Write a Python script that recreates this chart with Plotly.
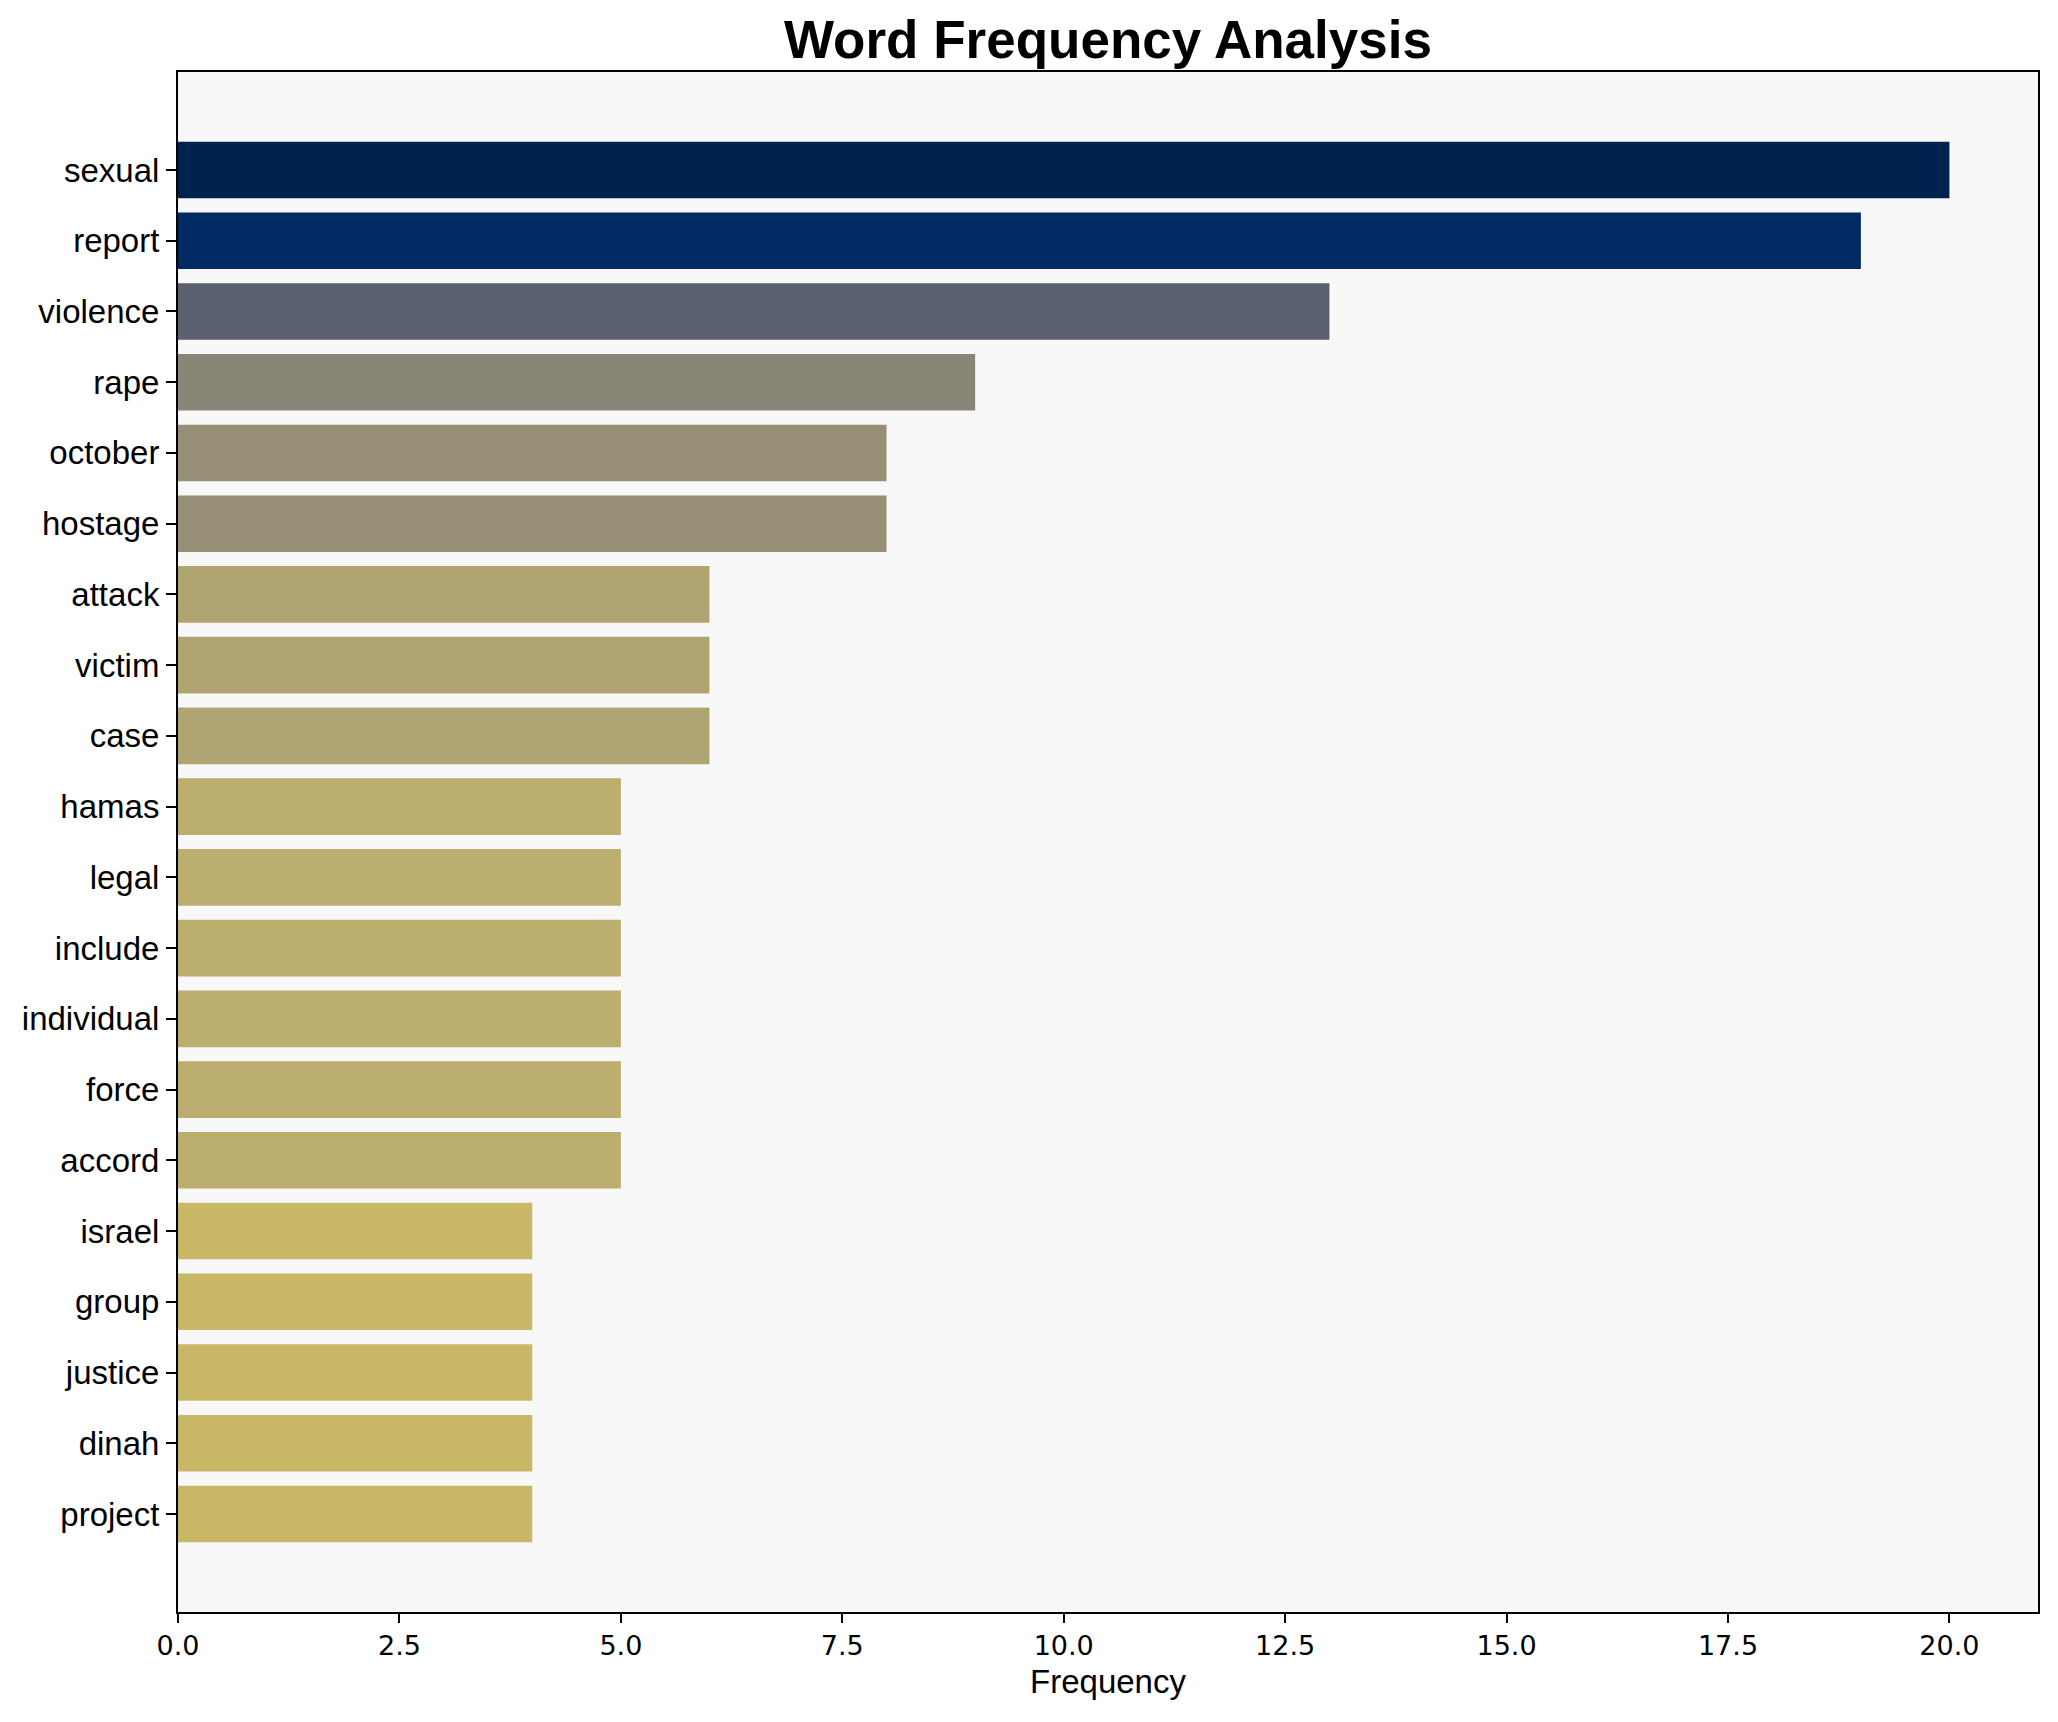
import plotly.graph_objects as go

words = ["sexual", "report", "violence", "rape", "october", "hostage", "attack",
         "victim", "case", "hamas", "legal", "include", "individual", "force",
         "accord", "israel", "group", "justice", "dinah", "project"]
freqs = [20, 19, 13, 9, 8, 8, 6, 6, 6, 5, 5, 5, 5, 5, 5, 4, 4, 4, 4, 4]

# cividis_r(value / max) colours as seen in the picture
color_by_value = {
    20: "#00224e", 19: "#002a61", 13: "#5a606e", 9: "#8a8677",
    8: "#968f75", 6: "#b0a572", 5: "#bcae6f", 4: "#c9b867",
}
bar_colors = [color_by_value[v] for v in freqs]

fig = go.Figure(go.Bar(
    x=freqs, y=words, orientation="h",
    marker=dict(color=bar_colors, line=dict(width=0)),
))

W, H = 2058, 1722
n = len(words)
pad = 1.385

fig.update_layout(
    width=W, height=H,
    margin=dict(l=178, r=20, t=72, b=110),
    paper_bgcolor="white",
    plot_bgcolor="#f8f8f8",
    bargap=0.2,
    showlegend=False,
    title=dict(
        text="<b>Word Frequency Analysis</b>",
        x=(178 + 2038) / 2 / W, xanchor="center",
        y=1 - 39 / H, yanchor="middle", yref="container",
        font=dict(family="Liberation Sans, Arial", size=53, color="black"),
    ),
    font=dict(family="Liberation Sans, Arial", color="black"),
)

fig.update_xaxes(
    range=[0, 21], dtick=2.5, tick0=0, tickformat=".1f",
    showgrid=False, zeroline=False,
    showline=True, linecolor="black", linewidth=2, mirror=True,
    ticks="outside", ticklen=9, tickwidth=1.5, tickcolor="black",
    tickfont=dict(family="DejaVu Sans", size=27, color="black"),
    title=dict(text="Frequency", standoff=9,
               font=dict(family="Liberation Sans, Arial", size=33, color="black")),
)
fig.update_yaxes(
    range=[n - 1 + pad, -pad],
    showgrid=False, zeroline=False,
    showline=True, linecolor="black", linewidth=2, mirror=True,
    ticks="outside", ticklen=10, tickwidth=1.5, tickcolor="black",
    tickfont=dict(family="Liberation Sans, Arial", size=33, color="black"),
)

fig.write_html(
    "out.html",
    config={"displayModeBar": False},
    post_script="document.body.style.margin='0';document.body.style.overflow='hidden';",
)
